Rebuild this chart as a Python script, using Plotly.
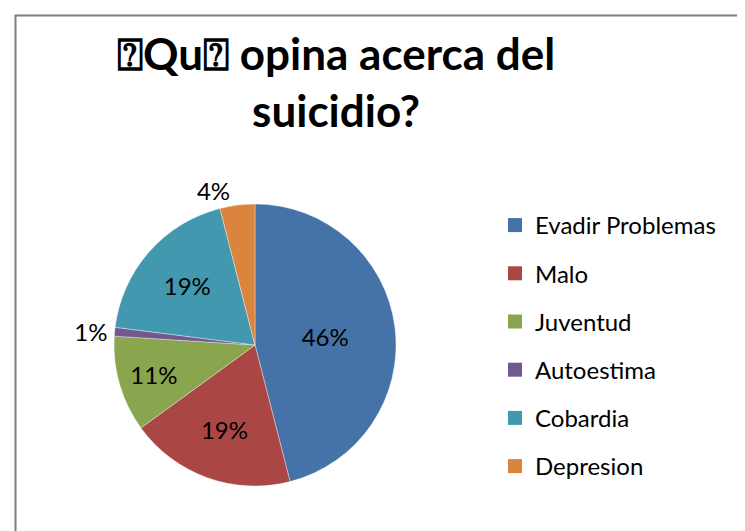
import plotly.graph_objects as go

categories = ["Evadir Problemas", "Malo", "Juventud", "Autoestima", "Cobardia", "Depresion"]
values = [46, 19, 11, 1, 19, 4]
colors = ["#4572A7", "#AA4643", "#89A54E", "#71588F", "#4198AF", "#DB843D"]
text_positions = ["inside", "inside", "inside", "outside", "inside", "outside"]
title_text = "\u2370Qu\u2370 opina acerca del<br>suicidio?"

W, H = 745, 531
FONT = "Lato, 'Liberation Sans', sans-serif"

cx, cy, R = 247, 337, 141

fig = go.Figure()
fig.add_trace(go.Pie(
    labels=categories,
    values=values,
    sort=False,
    direction="clockwise",
    rotation=0,
    marker=dict(colors=colors, line=dict(color="rgba(255,255,255,0.6)", width=0.6)),
    textinfo="percent",
    textposition=text_positions,
    insidetextorientation="horizontal",
    textfont=dict(family=FONT, size=24, color="black"),
    outsidetextfont=dict(family=FONT, size=24, color="black"),
    insidetextfont=dict(family=FONT, size=24, color="black"),
    showlegend=False,
    hoverinfo="label+percent",
    domain=dict(x=[(cx - R) / W, (cx + R) / W], y=[(H - cy - R) / H, (H - cy + R) / H]),
))

# legend entries built from the same category/colour lists
for name, col in zip(categories, colors):
    fig.add_trace(go.Scatter(
        x=[None], y=[None], mode="markers", name=name, legendgroup=name,
        marker=dict(symbol="square", size=14, color=col),
        showlegend=True,
    ))

fig.update_layout(
    width=W, height=H,
    margin=dict(l=0, r=0, t=0, b=0),
    paper_bgcolor="white",
    plot_bgcolor="white",
    xaxis=dict(visible=False),
    yaxis=dict(visible=False),
    annotations=[dict(
        text="<b>" + title_text + "</b>",
        x=328 / W, y=1 - 17 / H, xref="paper", yref="paper",
        xanchor="center", yanchor="top", showarrow=False,
        font=dict(family=FONT, size=44, color="black"),
    )],
    legend=dict(
        x=487 / W, y=1 - 195 / H, xanchor="left", yanchor="top",
        font=dict(family=FONT, size=24, color="black"),
        tracegroupgap=14,
        itemclick=False, itemdoubleclick=False,
        bgcolor="rgba(0,0,0,0)",
    ),
    shapes=[dict(
        type="rect", xref="paper", yref="paper",
        x0=7.5 / W, x1=1.1, y0=-0.1, y1=1 - 7.5 / H,
        line=dict(color="#7f7f7f", width=2),
    )],
)

fig.write_html("out.html")
